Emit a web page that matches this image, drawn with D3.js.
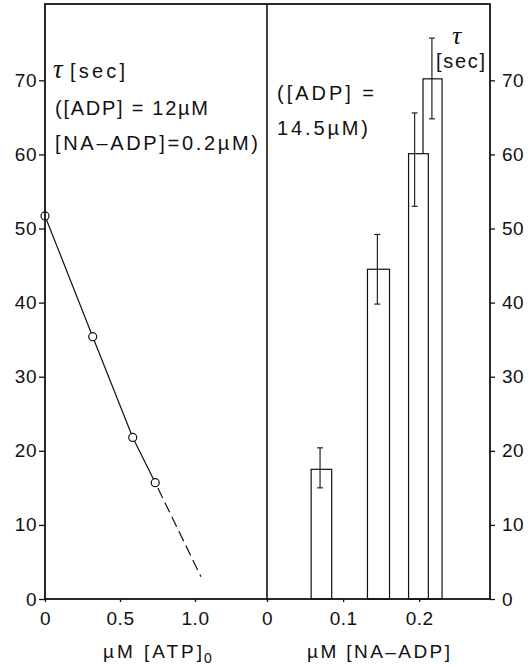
<!DOCTYPE html>
<html>
<head>
<meta charset="utf-8">
<script src="https://cdn.jsdelivr.net/npm/d3@7"></script>
<style>
  body { margin: 0; background: #fff; }
  text { font-family: "Liberation Sans", Arial, sans-serif; fill: #111; }
  .tick text { font-size: 19px; letter-spacing: 0.5px; }
  .tick line { stroke: #111; stroke-width: 1.3; }
</style>
</head>
<body>
<div id="chart"></div>
<script>
// left panel: tau vs [ATP]0
const atpConc = [0, 0.318, 0.585, 0.735];
const atpTau = [51.7, 35.4, 21.8, 15.7];
// dashed extrapolation
const extrapConc = [0.735, 1.04];
const extrapTau = [15.7, 3.0];

// right panel: tau vs [NA-ADP], bars with error bars
const naLeft = [0.058, 0.132, 0.186, 0.205];
const naRight = [0.085, 0.161, 0.212, 0.230];
const naTau = [17.5, 44.5, 60.1, 70.2];
const errX = [0.0697, 0.145, 0.194, 0.2167];
const errHi = [20.4, 49.2, 65.6, 75.7];
const errLo = [15.0, 39.8, 53.0, 64.8];

const yTicks = [0, 10, 20, 30, 40, 50, 60, 70];
const xTicksL = [0, 0.5, 1.0];
const xTicksR = [0, 0.1, 0.2];

const width = 532, height = 669;
const pTop = 4, pBottom = 599, pLeft = 45, pMid = 267, pRight = 490;

const svg = d3.select("#chart").append("svg")
  .attr("width", width)
  .attr("height", height);

const y = d3.scaleLinear().domain([0, 80.3]).range([pBottom, pTop]);
const xL = d3.scaleLinear().domain([0, 1.48]).range([pLeft, pMid]);
const xR = d3.scaleLinear().domain([0, 0.293]).range([pMid, pRight]);

const fmtX = d => d === 0 ? "0" : d3.format(".1f")(d);

// axes
svg.append("g")
  .attr("transform", `translate(${pLeft},0)`)
  .call(d3.axisLeft(y).tickValues(yTicks).tickSize(6).tickPadding(2))
  .call(g => g.select(".domain").remove());

svg.append("g")
  .attr("transform", `translate(${pRight},0)`)
  .call(d3.axisRight(y).tickValues(yTicks).tickSize(5).tickPadding(7))
  .call(g => g.select(".domain").remove());

svg.append("g")
  .attr("transform", `translate(0,${pBottom})`)
  .call(d3.axisBottom(xL).tickValues(xTicksL).tickSize(3).tickPadding(10).tickFormat(fmtX))
  .call(g => g.select(".domain").remove());

svg.append("g")
  .attr("transform", `translate(0,${pBottom})`)
  .call(d3.axisBottom(xR).tickValues(xTicksR).tickSize(3).tickPadding(10).tickFormat(fmtX))
  .call(g => g.select(".domain").remove());

svg.selectAll(".tick text").attr("fill", "#111");

// bars (taller first so shorter ones sit in front)
const bars = naTau.map((t, i) => ({ i, t })).sort((a, b) => b.t - a.t);
svg.selectAll("rect.bar")
  .data(bars)
  .enter().append("rect")
  .attr("class", "bar")
  .attr("x", d => xR(naLeft[d.i]))
  .attr("width", d => xR(naRight[d.i]) - xR(naLeft[d.i]))
  .attr("y", d => y(d.t))
  .attr("height", d => y(0) - y(d.t))
  .attr("fill", "#fff")
  .attr("stroke", "#111")
  .attr("stroke-width", 1.2);

// error bars
const eg = svg.selectAll("g.err")
  .data(naTau.map((t, i) => i))
  .enter().append("g")
  .attr("class", "err")
  .attr("stroke", "#111")
  .attr("stroke-width", 1.1);
eg.append("line")
  .attr("x1", i => xR(errX[i])).attr("x2", i => xR(errX[i]))
  .attr("y1", i => y(errHi[i])).attr("y2", i => y(errLo[i]));
eg.append("line")
  .attr("x1", i => xR(errX[i]) - 3).attr("x2", i => xR(errX[i]) + 3)
  .attr("y1", i => y(errHi[i])).attr("y2", i => y(errHi[i]));
eg.append("line")
  .attr("x1", i => xR(errX[i]) - 3).attr("x2", i => xR(errX[i]) + 3)
  .attr("y1", i => y(errLo[i])).attr("y2", i => y(errLo[i]));

// left panel line
const line = d3.line().x(d => xL(d[0])).y(d => y(d[1]));
svg.append("path")
  .attr("d", line(atpConc.map((c, i) => [c, atpTau[i]])))
  .attr("fill", "none")
  .attr("stroke", "#111")
  .attr("stroke-width", 1.2);
svg.append("path")
  .attr("d", line(extrapConc.map((c, i) => [c, extrapTau[i]])))
  .attr("fill", "none")
  .attr("stroke", "#111")
  .attr("stroke-width", 1.2)
  .attr("stroke-dasharray", "11,5")
  .attr("stroke-dashoffset", -6);

svg.selectAll("circle.pt")
  .data(atpConc)
  .enter().append("circle")
  .attr("class", "pt")
  .attr("cx", d => xL(d))
  .attr("cy", (d, i) => y(atpTau[i]))
  .attr("r", 4)
  .attr("fill", "#fff")
  .attr("stroke", "#111")
  .attr("stroke-width", 1.2);

// frame
const frame = svg.append("g").attr("stroke", "#111").attr("fill", "none");
frame.append("rect")
  .attr("x", pLeft).attr("y", pTop)
  .attr("width", pRight - pLeft).attr("height", pBottom - pTop)
  .attr("stroke-width", 1.8);
frame.append("line")
  .attr("x1", pMid).attr("x2", pMid).attr("y1", pTop).attr("y2", pBottom)
  .attr("stroke-width", 1.6);

// annotations
const tau = (x, yy, size) => svg.append("text")
  .attr("x", x).attr("y", yy)
  .style("font-family", "'Liberation Serif', 'DejaVu Serif', serif")
  .style("font-style", "italic")
  .style("font-size", size + "px")
  .text("τ");

const note = (x, yy, len, txt) => svg.append("text")
  .attr("x", x).attr("y", yy)
  .attr("textLength", len)
  .style("font-size", "20px")
  .text(txt);

tau(53, 78, 27);
note(70, 78, 55, "[sec]");
note(55, 115, 153, "([ADP] = 12µM");
note(55, 150, 203, "[NA–ADP]=0.2µM)");

note(277, 100, 97, "([ADP] =");
note(277, 135, 91, "14.5µM)");

tau(452, 44, 26);
note(436, 68, 49, "[sec]");

// axis titles
svg.append("text")
  .attr("x", 103).attr("y", 658)
  .style("font-size", "19px")
  .attr("textLength", 99)
  .text("µM [ATP]");
svg.append("text")
  .attr("x", 204).attr("y", 663)
  .style("font-size", "14px")
  .text("0");

svg.append("text")
  .attr("x", 307).attr("y", 658)
  .attr("textLength", 143)
  .style("font-size", "19px")
  .text("µM [NA–ADP]");
</script>
</body>
</html>
